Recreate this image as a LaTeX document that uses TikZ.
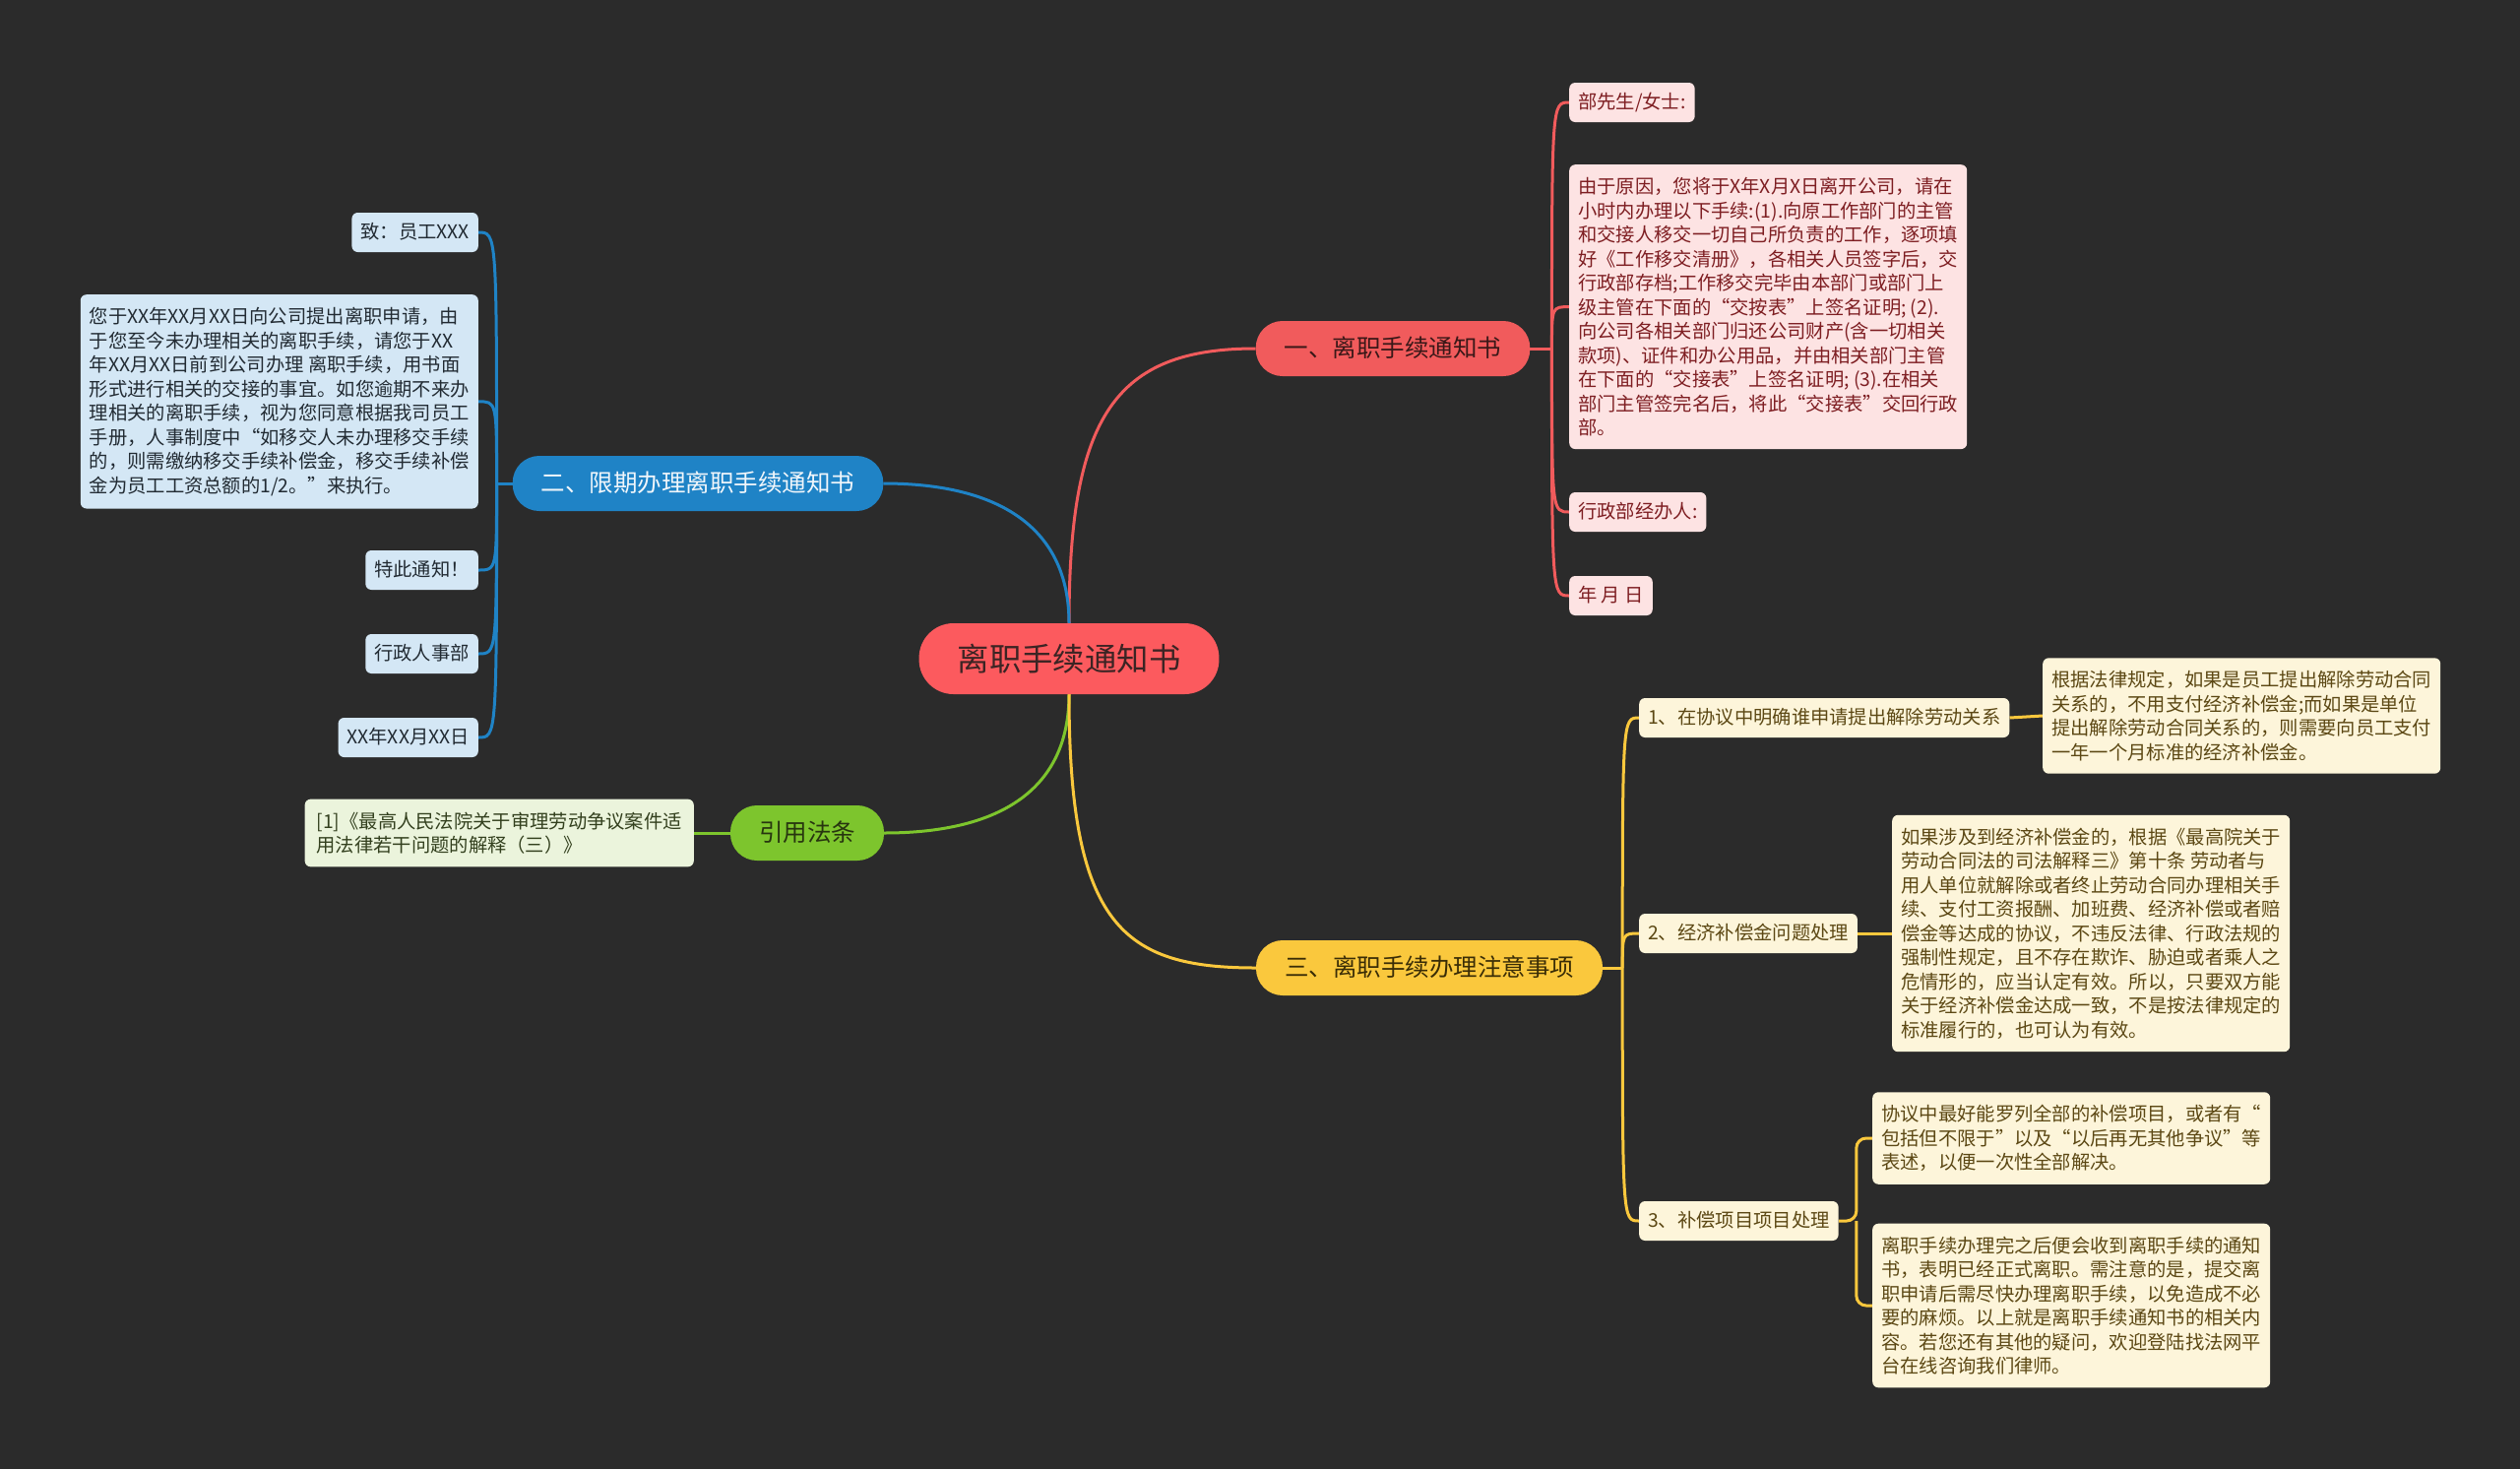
\documentclass[tikz,border=0pt]{standalone}
\usepackage{fontspec}
\setmainfont{Noto Sans CJK SC}
\usetikzlibrary{calc}

\definecolor{bgc}{HTML}{2B2B2B}
\definecolor{rootfill}{HTML}{FC5A5E}
\definecolor{roottext}{HTML}{3C2424}
\definecolor{redc}{HTML}{F15B5C}
\definecolor{redtext}{HTML}{3A1818}
\definecolor{pinkfill}{HTML}{FDE3E3}
\definecolor{pinktext}{HTML}{7E1E22}
\definecolor{bluec}{HTML}{1F83C6}
\definecolor{bluetext}{HTML}{F0F6FB}
\definecolor{bluefill}{HTML}{D4E7F5}
\definecolor{blueleaftext}{HTML}{222B33}
\definecolor{greenc}{HTML}{7DC52D}
\definecolor{greentext}{HTML}{27350F}
\definecolor{greenfill}{HTML}{EBF4DC}
\definecolor{greenleaftext}{HTML}{33401E}
\definecolor{yelc}{HTML}{FAC83D}
\definecolor{yeltext}{HTML}{3A2D06}
\definecolor{yelfill}{HTML}{FDF5DA}
\definecolor{yelleaftext}{HTML}{5C4814}

\pgfdeclarelayer{back}
\pgfdeclarelayer{lines}
\pgfsetlayers{back,lines,main}

\begin{document}
\begin{tikzpicture}[x=1pt, y=-1pt, line join=round, line cap=round,
  leaf/.style={rounded corners=6pt, inner xsep=9pt, inner ysep=10pt, align=left,
    font=\fontsize{19.3}{24.5}\selectfont},
  oneline/.style={text height=16pt, text depth=4pt},
  para/.style={leaf, inner ysep=13pt},
  branch/.style={rounded corners=27pt, inner xsep=29pt, inner ysep=15.5pt,
    text height=21pt, text depth=4pt, font=\fontsize{24.5}{30}\selectfont},
  root/.style={rounded corners=35pt, inner xsep=39pt, inner ysep=20pt,
    text height=28pt, text depth=4pt, font=\fontsize{32.4}{38}\selectfont},
  redline/.style={draw=redc, line width=3pt},
  blueline/.style={draw=bluec, line width=3pt},
  greenline/.style={draw=greenc, line width=3pt},
  yelline/.style={draw=yelc, line width=3pt}]

  % 背景
  \begin{pgfonlayer}{back}
    \fill[bgc] (0,0) rectangle (2560,1492);
  \end{pgfonlayer}
  \useasboundingbox (0,0) rectangle (2560,1492);

  % 中心主题
  \node[root, fill=rootfill, text=roottext] (root) at (1086,669) {离职手续通知书};

  % 一级分支
  \node[branch, fill=redc, text=redtext] (b1) at (1415,354) {一、离职手续通知书};
  \node[branch, fill=bluec, text=bluetext] (b2) at (709,491) {二、限期办理离职手续通知书};
  \node[branch, fill=greenc, text=greentext] (b3) at (820,846) {引用法条};
  \node[branch, fill=yelc, text=yeltext] (b4) at (1452,983) {三、离职手续办理注意事项};

  % 一、离职手续通知书
  \node[leaf, oneline, fill=pinkfill, text=pinktext, anchor=west] (p1) at (1594,104) {部先生/女士:};
  \node[para, fill=pinkfill, text=pinktext, anchor=north west] (p2) at (1594,167) {由于原因，您将于X年X月X日离开公司，请在\\
    小时内办理以下手续:(1).向原工作部门的主管\\
    和交接人移交一切自己所负责的工作，逐项填\\
    好《工作移交清册》，各相关人员签字后，交\\
    行政部存档;工作移交完毕由本部门或部门上\\
    级主管在下面的“交按表”上签名证明; (2).\\
    向公司各相关部门归还公司财产(含一切相关\\
    款项)、证件和办公用品，并由相关部门主管\\
    在下面的“交接表”上签名证明; (3).在相关\\
    部门主管签完名后，将此“交接表”交回行政\\
    部。};
  \node[leaf, oneline, fill=pinkfill, text=pinktext, anchor=west] (p3) at (1594,520) {行政部经办人:};
  \node[leaf, oneline, fill=pinkfill, text=pinktext, anchor=west] (p4) at (1594,605) {年 月 日};

  % 二、限期办理离职手续通知书
  \node[leaf, oneline, fill=bluefill, text=blueleaftext, anchor=east] (q1) at (486,236) {致：员工XXX};
  \node[para, fill=bluefill, text=blueleaftext, anchor=north east] (q2) at (486,299) {您于XX年XX月XX日向公司提出离职申请，由\\
    于您至今未办理相关的离职手续，请您于XX\\
    年XX月XX日前到公司办理 离职手续，用书面\\
    形式进行相关的交接的事宜。如您逾期不来办\\
    理相关的离职手续，视为您同意根据我司员工\\
    手册，人事制度中“如移交人未办理移交手续\\
    的，则需缴纳移交手续补偿金，移交手续补偿\\
    金为员工工资总额的1/2。”来执行。};
  \node[leaf, oneline, fill=bluefill, text=blueleaftext, anchor=east] (q3) at (486,579) {特此通知！};
  \node[leaf, oneline, fill=bluefill, text=blueleaftext, anchor=east] (q4) at (486,664) {行政人事部};
  \node[leaf, oneline, fill=bluefill, text=blueleaftext, anchor=east] (q5) at (486,749) {XX年XX月XX日};

  % 引用法条
  \node[para, fill=greenfill, text=greenleaftext, anchor=east, inner xsep=12pt] (g1) at (705,846) {[1]《最高人民法院关于审理劳动争议案件适\\
    用法律若干问题的解释（三）》};

  % 三、离职手续办理注意事项
  \node[leaf, oneline, fill=yelfill, text=yelleaftext, anchor=west] (y1) at (1665,729) {1、在协议中明确谁申请提出解除劳动关系};
  \node[leaf, oneline, fill=yelfill, text=yelleaftext, anchor=west] (y2) at (1665,948) {2、经济补偿金问题处理};
  \node[leaf, oneline, fill=yelfill, text=yelleaftext, anchor=west] (y3) at (1665,1240) {3、补偿项目项目处理};
  \node[para, fill=yelfill, text=yelleaftext, anchor=west] (y1l) at (2075,727) {根据法律规定，如果是员工提出解除劳动合同\\
    关系的，不用支付经济补偿金;而如果是单位\\
    提出解除劳动合同关系的，则需要向员工支付\\
    一年一个月标准的经济补偿金。};
  \node[para, fill=yelfill, text=yelleaftext, anchor=west] (y2l) at (1922,948) {如果涉及到经济补偿金的，根据《最高院关于\\
    劳动合同法的司法解释三》第十条 劳动者与\\
    用人单位就解除或者终止劳动合同办理相关手\\
    续、支付工资报酬、加班费、经济补偿或者赔\\
    偿金等达成的协议，不违反法律、行政法规的\\
    强制性规定，且不存在欺诈、胁迫或者乘人之\\
    危情形的，应当认定有效。所以，只要双方能\\
    关于经济补偿金达成一致，不是按法律规定的\\
    标准履行的，也可认为有效。};
  \node[para, fill=yelfill, text=yelleaftext, anchor=west] (y3a) at (1902,1156) {协议中最好能罗列全部的补偿项目，或者有“\\
    包括但不限于”以及“以后再无其他争议”等\\
    表述，以便一次性全部解决。};
  \node[para, fill=yelfill, text=yelleaftext, anchor=west] (y3b) at (1902,1326) {离职手续办理完之后便会收到离职手续的通知\\
    书，表明已经正式离职。需注意的是，提交离\\
    职申请后需尽快办理离职手续，以免造成不必\\
    要的麻烦。以上就是离职手续通知书的相关内\\
    容。若您还有其他的疑问，欢迎登陆找法网平\\
    台在线咨询我们律师。};

  % 连线
  \begin{pgfonlayer}{lines}
    \draw[redline] (root.north) .. controls +(0,-210) and +(-143,0) .. (b1.west);
    \draw[blueline] (root.north) .. controls +(0,-95) and +(120,0) .. (b2.east);
    \draw[greenline] (root.south) .. controls +(0,95) and +(120,0) .. (b3.east);
    \draw[yelline] (root.south) .. controls +(0,235) and +(-135,0) .. (b4.west);

    \draw[redline] (b1.east) -- ++(22,0) coordinate (s1);
    \draw[redline] (s1) .. controls (s1 |- p1.west) .. (p1.west);
    \draw[redline] (s1) .. controls (s1 |- p2.west) .. (p2.west);
    \draw[redline] (s1) .. controls (s1 |- p3.west) .. (p3.west);
    \draw[redline] (s1) .. controls (s1 |- p4.west) .. (p4.west);

    \draw[blueline] (b2.west) -- ++(-16,0) coordinate (s2);
    \draw[blueline] (s2) .. controls (s2 |- q1.east) .. (q1.east);
    \draw[blueline] (s2) .. controls (s2 |- q2.east) .. (q2.east);
    \draw[blueline] (s2) .. controls (s2 |- q3.east) .. (q3.east);
    \draw[blueline] (s2) .. controls (s2 |- q4.east) .. (q4.east);
    \draw[blueline] (s2) .. controls (s2 |- q5.east) .. (q5.east);

    \draw[greenline] (b3.west) -- (g1.east);

    \draw[yelline] (b4.east) -- ++(20,0) coordinate (s4);
    \draw[yelline] (s4) .. controls (s4 |- y1.west) .. (y1.west);
    \draw[yelline] (s4) .. controls (s4 |- y2.west) .. (y2.west);
    \draw[yelline] (s4) .. controls (s4 |- y3.west) .. (y3.west);
    \draw[yelline] (y1.east) -- (y1l.west);
    \draw[yelline] (y2.east) -- (y2l.west);
    \draw[yelline, rounded corners=10pt] (y3.east) -- ++(18,0) coordinate (s5) |- (y3a.west);
    \draw[yelline, rounded corners=10pt] (s5) |- (y3b.west);
  \end{pgfonlayer}
\end{tikzpicture}
\end{document}
